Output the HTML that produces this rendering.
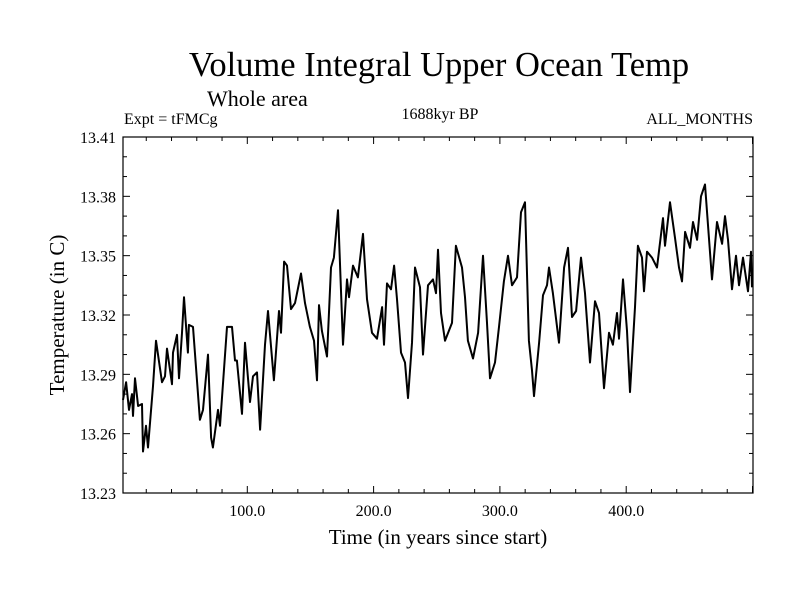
<!DOCTYPE html>
<html><head><meta charset="utf-8"><style>
body{margin:0;background:#fff;}
svg text{font-family:"Liberation Serif",serif;fill:#000;}
</style></head><body>
<svg id="chart" width="800" height="600" viewBox="0 0 800 600" xmlns="http://www.w3.org/2000/svg">
<rect width="800" height="600" fill="#fff"/>
<text x="439" y="76" font-size="34.5" text-anchor="middle">Volume Integral Upper Ocean Temp</text>
<text x="207" y="106" font-size="22">Whole area</text>
<text x="124" y="124" font-size="16">Expt = tFMCg</text>
<text x="440" y="119" font-size="16" text-anchor="middle">1688kyr BP</text>
<text x="753" y="124" font-size="16" text-anchor="end">ALL_MONTHS</text>
<text x="438" y="544" font-size="21" text-anchor="middle">Time (in years since start)</text>
<text transform="translate(64,315) rotate(-90)" font-size="21" text-anchor="middle">Temperature (in C)</text>
<g id="axes"></g>
<rect x="123" y="137" width="630" height="356" fill="none" stroke="#000" stroke-width="1.2"/>
<path id="series" fill="none" stroke="#000" stroke-width="2" stroke-linejoin="round"/>
</svg>
<script>
const years=[1.6,4.0,6.3,8.7,9.5,11.1,13.5,16.6,17.4,19.8,21.4,25.3,27.7,32.5,34.8,36.4,40.4,41.2,44.3,45.9,48.3,49.9,53.0,53.8,57.0,62.5,64.9,68.9,71.3,72.8,76.8,78.4,83.9,87.9,90.3,91.8,95.8,98.2,102.1,104.5,107.7,110.1,114.0,116.4,121.1,125.1,126.7,129.1,131.4,134.6,137.8,142.5,145.7,149.6,152.8,155.2,156.8,159.1,163.1,166.3,168.6,171.8,175.8,178.9,180.5,183.7,187.6,191.6,194.8,198.7,202.7,206.7,208.2,210.6,213.8,216.2,218.5,221.7,224.9,227.2,230.4,232.8,236.7,239.1,243.1,247.0,249.4,251.0,253.4,256.5,262.1,265.2,270.0,272.4,274.7,278.7,282.7,286.6,289.8,292.2,296.1,299.3,303.2,306.4,309.6,313.5,316.7,319.9,323.0,325.4,327.0,331.0,334.1,337.3,338.9,342.0,346.8,350.8,353.9,357.1,360.3,364.2,367.4,371.3,375.3,378.5,382.4,386.4,389.5,392.7,394.3,397.5,400.6,403.0,407.0,409.3,412.5,414.1,416.5,420.4,424.4,429.1,430.7,434.7,438.6,441.8,444.2,446.6,450.5,452.9,456.1,459.2,462.4,467.9,471.9,475.9,478.2,480.6,483.8,486.9,489.3,492.5,496.4,498.8,499.6];
const temps=[13.277,13.286,13.272,13.280,13.269,13.288,13.274,13.275,13.251,13.264,13.253,13.284,13.307,13.286,13.289,13.303,13.285,13.301,13.310,13.288,13.311,13.329,13.301,13.315,13.314,13.267,13.272,13.300,13.258,13.253,13.272,13.264,13.314,13.314,13.297,13.297,13.270,13.306,13.276,13.289,13.291,13.262,13.305,13.322,13.287,13.322,13.311,13.347,13.345,13.323,13.326,13.341,13.326,13.314,13.307,13.287,13.325,13.312,13.299,13.344,13.349,13.373,13.305,13.338,13.329,13.345,13.339,13.361,13.328,13.311,13.308,13.324,13.305,13.336,13.333,13.345,13.328,13.301,13.296,13.278,13.306,13.344,13.334,13.300,13.335,13.338,13.331,13.353,13.321,13.307,13.316,13.355,13.344,13.329,13.307,13.298,13.311,13.350,13.316,13.288,13.296,13.314,13.337,13.350,13.335,13.339,13.372,13.377,13.307,13.292,13.279,13.306,13.330,13.335,13.344,13.331,13.306,13.344,13.354,13.319,13.322,13.349,13.331,13.296,13.327,13.321,13.283,13.311,13.305,13.321,13.308,13.338,13.312,13.281,13.324,13.355,13.349,13.332,13.352,13.349,13.344,13.369,13.355,13.377,13.359,13.344,13.337,13.362,13.354,13.367,13.358,13.380,13.386,13.338,13.367,13.356,13.370,13.358,13.333,13.350,13.335,13.349,13.332,13.352,13.334];
const yTickLabels=["13.23","13.26","13.29","13.32","13.35","13.38","13.41"];
const xTickLabels=["100.0","200.0","300.0","400.0"];
const yMin=13.23,yMax=13.41,plotTop=137,plotBottom=493,plotLeft=123,plotRight=753;
function xs(yr){return 121+1.263*yr;}
function ys(v){return plotBottom-(v-yMin)/(yMax-yMin)*(plotBottom-plotTop);}
const NS="http://www.w3.org/2000/svg";
const axes=document.getElementById('axes');
function line(x1,y1,x2,y2,name){const l=document.createElementNS(NS,'line');
l.setAttribute('x1',x1);l.setAttribute('y1',y1);l.setAttribute('x2',x2);l.setAttribute('y2',y2);
l.setAttribute('stroke','#000');l.setAttribute('stroke-width','1');


axes.appendChild(l);}
function text(x,y,s,anchor,name){const t=document.createElementNS(NS,'text');
t.setAttribute('x',x);t.setAttribute('y',y);t.setAttribute('font-size','16');t.setAttribute('text-anchor',anchor);t.textContent=s;


axes.appendChild(t);}
for(let i=0;i<=18;i++){const v=yMin+i*0.01,y=ys(v),maj=i%3===0,len=maj?7:4;
line(plotLeft,y,plotLeft+len,y,'y-tick');line(plotRight,y,plotRight-len,y,'y-tick-right');}
yTickLabels.forEach(s=>text(plotLeft-7,ys(parseFloat(s))+6,s,'end','y-tick-label'));
for(let yr=20;yr<=500;yr+=20){const x=xs(yr),maj=yr%100===0,len=maj?7:4;
if(x<plotRight){line(x,plotBottom,x,plotBottom-len,'x-tick');line(x,plotTop,x,plotTop+len,'x-tick-top');}}
xTickLabels.forEach(s=>text(xs(parseFloat(s)),516,s,'middle','x-tick-label'));
let d='';years.forEach((yr,i)=>{d+=(i?'L':'M')+xs(yr).toFixed(1)+','+ys(temps[i]).toFixed(1);});
document.getElementById('series').setAttribute('d',d);
</script>
</body></html>
